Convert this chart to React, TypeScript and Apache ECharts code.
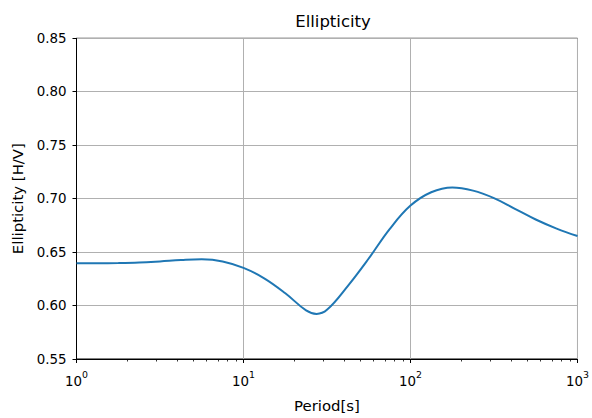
import React, { useEffect, useRef } from "react";
import * as echarts from "echarts";

const periods = [1, 1.33, 1.78, 2.37, 3.16, 4.22, 5.62, 7.5, 10, 13.3, 17.8, 23.7, 27.4, 31.6, 42.2, 56.2, 75, 100, 133, 178, 237, 316, 422, 562, 750, 1000];
const ellipticity = [0.6395, 0.6396, 0.6398, 0.6403, 0.6413, 0.6425, 0.6432, 0.6413, 0.6352, 0.6255, 0.6115, 0.5955, 0.5922, 0.596, 0.6185, 0.644, 0.6715, 0.6935, 0.706, 0.7105, 0.7075, 0.7005, 0.6905, 0.6805, 0.672, 0.665];
const minorTickPeriods = [2, 3, 4, 5, 6, 7, 8, 9, 20, 30, 40, 50, 60, 70, 80, 90, 200, 300, 400, 500, 600, 700, 800, 900];
const yMin = 0.55;
const yMax = 0.85;
const yStep = 0.05;
const xMin = 1;
const xMax = 1000;

const FONT = "DejaVu Sans";

export default function App() {
  const ref = useRef<HTMLDivElement>(null);
  useEffect(() => {
    if (!ref.current) return;
    const chart = echarts.init(ref.current, null, { renderer: "svg" });
    chart.setOption({
      animation: false,
      backgroundColor: "#ffffff",
      title: {
        text: "Ellipticity",
        left: 328,
        textAlign: "center",
        top: 8,
        textStyle: { fontFamily: FONT, fontSize: 16.5, fontWeight: "normal", color: "#000" },
      },
      grid: {
        left: 76.5,
        right: 12,
        top: 38.3,
        bottom: 53.7,
        show: true,
        borderColor: "#000",
        borderWidth: 1,
        backgroundColor: "transparent",
      },
      xAxis: {
        type: "log",
        logBase: 10,
        min: xMin,
        max: xMax,
        interval: 1,
        name: "Period[s]",
        nameLocation: "middle",
        nameGap: 39,
        nameTextStyle: { fontFamily: FONT, fontSize: 14.9, color: "#000" },
        axisLine: { show: true, lineStyle: { color: "#000", width: 1 } },
        axisTick: { show: true, length: 4, lineStyle: { color: "#000", width: 1 } },
        splitLine: { show: true, lineStyle: { color: "#b0b0b0", width: 1 } },
        axisLabel: {
          margin: 11,
          formatter: (v: number) => `{b|10}{s|${Math.round(Math.log10(v))}}`,
          rich: {
            b: { fontFamily: FONT, fontSize: 13.4, color: "#000", lineHeight: 18, verticalAlign: "bottom" },
            s: { fontFamily: FONT, fontSize: 9.4, color: "#000", lineHeight: 11, verticalAlign: "top" },
          },
        },
      },
      yAxis: {
        type: "value",
        min: yMin,
        max: yMax,
        interval: yStep,
        name: "Ellipticity [H/V]",
        nameLocation: "middle",
        nameGap: 51,
        nameTextStyle: { fontFamily: FONT, fontSize: 14.9, color: "#000" },
        axisLine: { show: true, lineStyle: { color: "#000", width: 1 } },
        axisTick: { show: true, length: 4, lineStyle: { color: "#000", width: 1 } },
        splitLine: { show: true, lineStyle: { color: "#b0b0b0", width: 1 } },
        axisLabel: {
          margin: 10,
          fontFamily: FONT,
          fontSize: 13.4,
          color: "#000",
          formatter: (v: number) => v.toFixed(2),
        },
      },
      series: [
        {
          type: "line",
          data: periods.map((p, i) => [p, ellipticity[i]]),
          smooth: 0.4,
          showSymbol: false,
          lineStyle: { color: "#1f77b4", width: 2 },
          itemStyle: { color: "#1f77b4" },
          z: 5,
        },
        {
          type: "custom",
          clip: false,
          silent: true,
          data: minorTickPeriods.map((p) => [p, yMin]),
          renderItem: (params: any, api: any) => {
            const pt = api.coord([api.value(0), yMin]);
            const x = Math.round(pt[0]) + 0.5;
            return {
              type: "line",
              shape: { x1: x, y1: pt[1], x2: x, y2: pt[1] + 2.5 },
              style: { stroke: "#000", lineWidth: 0.8 },
            };
          },
          z: 6,
        },
      ],
    });
    return () => chart.dispose();
  }, []);
  return (
    <div
      ref={ref}
      style={{ position: "fixed", left: 0, top: 0, width: 592, height: 418, background: "#fff" }}
    />
  );
}
